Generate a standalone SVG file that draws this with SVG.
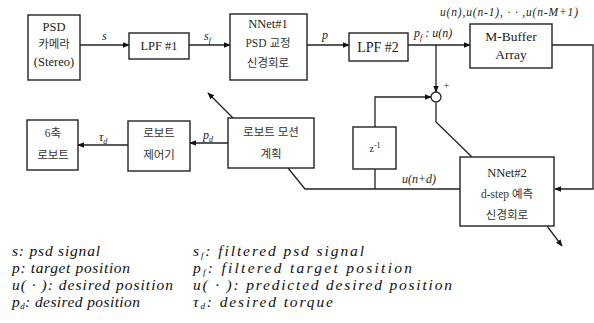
<svg xmlns="http://www.w3.org/2000/svg" width="594" height="323" viewBox="0 0 594 323">
<style>
.box{fill:#fff;stroke:#222;stroke-width:1.4}
.ln{fill:none;stroke:#222;stroke-width:1.3}
.t{font-family:"Liberation Serif","Noto Sans CJK KR",serif;font-size:12.5px;fill:#222;text-anchor:middle}
.k{font-family:"Liberation Serif","Noto Sans CJK KR",serif;font-size:11.5px;fill:#333;text-anchor:middle}
.lb{font-family:"Liberation Serif",serif;font-style:italic;font-size:12px;fill:#222}
.lg{font-family:"Liberation Serif",serif;font-style:italic;font-size:15.5px;fill:#111}
</style>
<defs>
<marker id="ah" viewBox="0 0 10 10" refX="9" refY="5" markerWidth="7" markerHeight="7" orient="auto" markerUnits="userSpaceOnUse">
<path d="M0,1 L10,5 L0,9 z" fill="#111"/>
</marker>
</defs>
<g id="connectors">
<line class="ln" x1="80" y1="45" x2="129" y2="45" marker-end="url(#ah)"/>
<line class="ln" x1="189" y1="45" x2="230" y2="45" marker-end="url(#ah)"/>
<line class="ln" x1="307" y1="45" x2="349" y2="45" marker-end="url(#ah)"/>
<line class="ln" x1="408" y1="45" x2="470" y2="45" marker-end="url(#ah)"/>
<polyline class="ln" points="436,45 436,92" marker-end="url(#ah)"/>
<polyline class="ln" points="552,45 593,45 593,189 555,189" marker-end="url(#ah)"/>
<polyline class="ln" points="375,127 375,97 431,97" marker-end="url(#ah)"/>
<polyline class="ln" points="436,103 436,122 472,157"/>
<line class="ln" x1="547" y1="226" x2="562" y2="246" marker-end="url(#ah)"/>
<polyline class="ln" points="460,189 305,189 288,168"/>
<line class="ln" x1="375" y1="169" x2="375" y2="189"/>
<line class="ln" x1="233" y1="118" x2="208" y2="93" marker-end="url(#ah)"/>
<line class="ln" x1="228" y1="143" x2="190" y2="143" marker-end="url(#ah)"/>
<line class="ln" x1="128" y1="145" x2="78" y2="145" marker-end="url(#ah)"/>
<circle cx="436" cy="97" r="5" fill="#fff" stroke="#222" stroke-width="1.3"/>
</g>
<g id="psd"><rect class="box" x="28" y="15" width="52" height="65"/>
<text class="t" x="54" y="31">PSD</text><text class="k" x="54" y="48">카메라</text><text class="t" x="54" y="66">(Stereo)</text></g>
<g id="lpf1"><rect class="box" x="129" y="33" width="60" height="26"/><text class="t" x="159" y="50">LPF #1</text></g>
<g id="nnet1"><rect class="box" x="230" y="14" width="77" height="66"/>
<text class="t" x="268" y="28">NNet#1</text><text class="k" x="268" y="47">PSD 교정</text><text class="k" x="268" y="67">신경회로</text></g>
<g id="lpf2"><rect class="box" x="349" y="33" width="59" height="28"/><text class="t" x="378" y="52" style="font-size:14px">LPF #2</text></g>
<g id="mbuffer"><rect class="box" x="470" y="24" width="82" height="44"/>
<text class="t" x="511" y="41" style="font-size:13.5px">M-Buffer</text><text class="t" x="511" y="59" style="font-size:13.5px">Array</text></g>
<g id="delay"><rect class="box" x="353" y="127" width="43" height="42"/><text class="t" x="375" y="152" style="font-size:10px">z<tspan dy="-4" font-size="8">-1</tspan></text></g>
<g id="planner"><rect class="box" x="228" y="118" width="86" height="50"/>
<text class="k" x="271" y="136">로보트 모션</text><text class="k" x="271" y="158">계획</text></g>
<g id="controller"><rect class="box" x="128" y="121" width="62" height="50"/>
<text class="k" x="159" y="137">로보트</text><text class="k" x="159" y="159">제어기</text></g>
<g id="robot"><rect class="box" x="27" y="120" width="51" height="50"/>
<text class="k" x="53" y="137">6축</text><text class="k" x="53" y="159">로보트</text></g>
<g id="nnet2"><rect class="box" x="460" y="157" width="94" height="69"/>
<text class="t" x="507" y="177">NNet#2</text><text class="k" x="507" y="198">d-step 예측</text><text class="k" x="507" y="219">신경회로</text></g>
<g id="labels">
<text class="lb" x="102" y="40">s</text>
<text class="lb" x="204" y="40">s<tspan dy="3" font-size="8">f</tspan></text>
<text class="lb" x="322" y="39">p</text>
<text class="lb" x="414" y="37">p<tspan dy="3" font-size="8">f</tspan><tspan dy="-3"> : u(n)</tspan></text>
<text class="lb" x="440" y="16" style="font-size:11.5px" textLength="138" lengthAdjust="spacing">u(n),u(n-1), · · ,u(n-M+1)</text>
<text class="lb" x="443" y="89" style="font-size:10px">+</text>
<text class="lb" x="402" y="183">u(n+d)</text>
<text class="lb" x="99" y="141">τ<tspan dy="3" font-size="8">d</tspan></text>
<text class="lb" x="203" y="139">p<tspan dy="3" font-size="8">d</tspan></text>
</g>
<g id="legend">
<text class="lg" x="12" y="256" textLength="88" lengthAdjust="spacing">s: psd signal</text>
<text class="lg" x="12" y="273" textLength="118" lengthAdjust="spacing">p: target position</text>
<text class="lg" x="12" y="290" textLength="161" lengthAdjust="spacing">u( · ): desired position</text>
<text class="lg" x="12" y="307" textLength="128" lengthAdjust="spacing">p<tspan dy="2" font-size="9">d</tspan><tspan dy="-2">: desired position</tspan></text>
<text class="lg" x="193" y="256" textLength="171" lengthAdjust="spacing">s<tspan dy="2" font-size="9">f</tspan><tspan dy="-2">: filtered psd signal</tspan></text>
<text class="lg" x="193" y="273" textLength="219" lengthAdjust="spacing">p<tspan dy="2" font-size="9">f</tspan><tspan dy="-2">: filtered target position</tspan></text>
<text class="lg" x="193" y="290" textLength="259" lengthAdjust="spacing">u( · ): predicted desired position</text>
<text class="lg" x="193" y="307" textLength="140" lengthAdjust="spacing">τ<tspan dy="2" font-size="9">d</tspan><tspan dy="-2">: desired torque</tspan></text>
</g>
</svg>
